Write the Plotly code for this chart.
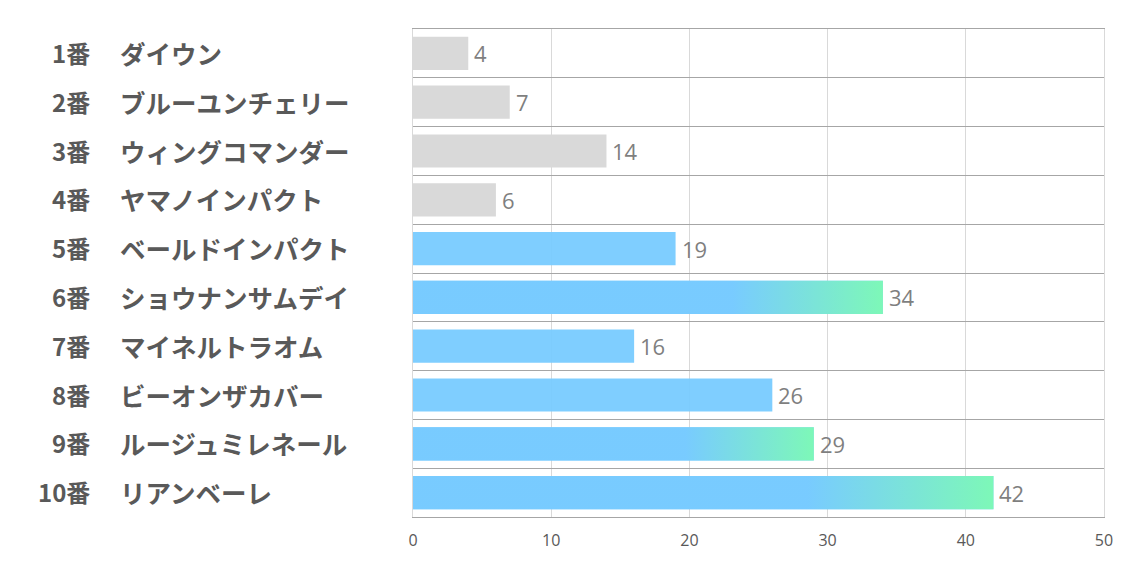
import plotly.graph_objects as go

nums = ["1番", "2番", "3番", "4番", "5番", "6番", "7番", "8番", "9番", "10番"]
names = ["ダイウン", "ブルーユンチェリー", "ウィングコマンダー", "ヤマノインパクト", "ベールドインパクト",
         "ショウナンサムデイ", "マイネルトラオム", "ビーオンザカバー", "ルージュミレネール", "リアンベーレ"]
values = [4, 7, 14, 6, 19, 34, 16, 26, 29, 42]
kind = ["gray", "gray", "gray", "gray", "blue", "grad", "blue", "blue", "grad", "grad"]
x_ticks = [0, 10, 20, 30, 40, 50]

GRAY = "#D9D9D9"
BLUE = "rgba(120,203,255,0.95)"
GREEN = "rgba(125,250,180,0.95)"
BW = 0.68

ypos = list(range(len(values)))
colors = [GRAY if k == "gray" else BLUE for k in kind]

fig = go.Figure()
fig.add_trace(go.Bar(
    x=values, y=ypos, orientation="h", width=BW,
    marker=dict(color=colors, line=dict(width=0)),
    hoverinfo="skip",
))

for i, (v, k) in enumerate(zip(values, kind)):
    if k != "grad":
        continue
    fig.add_trace(go.Scatter(
        x=[0, v, v, 0, 0], y=[i - BW / 2, i - BW / 2, i + BW / 2, i + BW / 2, i - BW / 2],
        mode="lines", line=dict(width=0), fill="toself",
        fillgradient=dict(type="horizontal", start=0, stop=v,
                          colorscale=[[0, BLUE], [0.68, BLUE], [1, GREEN]]),
        hoverinfo="skip", showlegend=False,
    ))

for i, v in enumerate(values):
    fig.add_annotation(x=v, y=i, xref="x", yref="y", text=str(v), showarrow=False,
                       xanchor="left", yanchor="middle", xshift=4,
                       font=dict(family="Open Sans, Noto Sans", size=22, color="#7F7F7F"))

for i, (n, nm) in enumerate(zip(nums, names)):
    fig.add_annotation(x=-0.4645, y=i, xref="paper", yref="y", text=n, showarrow=False,
                       xanchor="right", yanchor="middle", yshift=1,
                       font=dict(family="Noto Sans CJK JP", size=24, color="#595959", weight="bold"))
    fig.add_annotation(x=-0.427, y=i, xref="paper", yref="y", text=nm, showarrow=False,
                       xanchor="left", yanchor="middle", yshift=1,
                       font=dict(family="Noto Sans CJK JP", size=25.5, color="#595959", weight="bold"))

fig.update_layout(
    width=1134, height=567,
    margin=dict(l=405, r=38, t=21, b=58),
    paper_bgcolor="white", plot_bgcolor="white",
    showlegend=False,
    xaxis=dict(range=[0, 50], tickvals=x_ticks, showgrid=True, gridcolor="#D9D9D9", gridwidth=1,
               zeroline=False, showline=True, linecolor="#A6A6A6", linewidth=1, mirror=True,
               ticks="outside", ticklen=9, tickcolor="rgba(0,0,0,0)",
               tickfont=dict(family="Open Sans, Noto Sans", size=16, color="#595959")),
    yaxis=dict(range=[9.5, -0.5], tickvals=[i + 0.5 for i in range(9)], showticklabels=False,
               showgrid=True, gridcolor="#A6A6A6", gridwidth=1, zeroline=False,
               showline=True, linecolor="#D9D9D9", linewidth=1, mirror=True, ticks=""),
)

fig.write_html("out.html")
